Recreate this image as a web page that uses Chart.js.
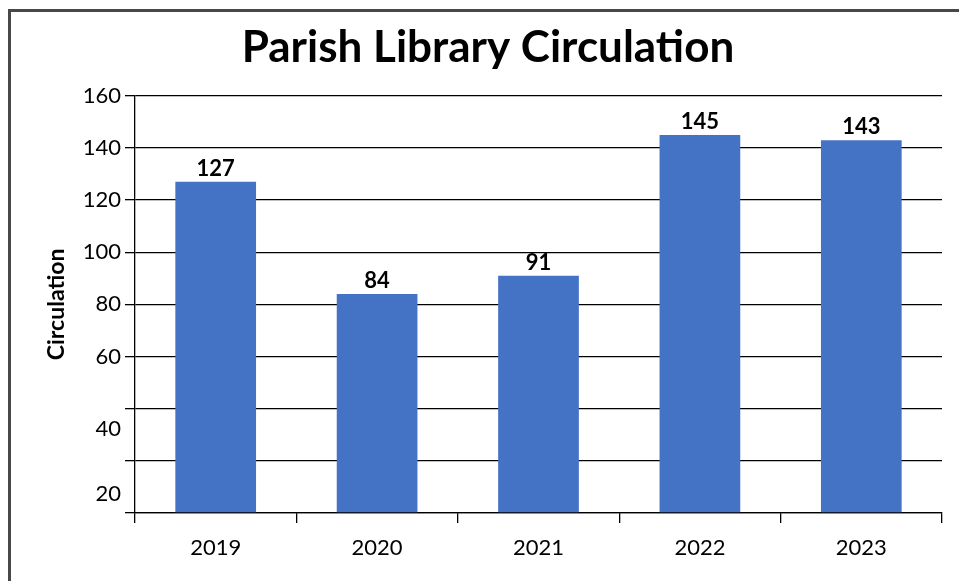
<!DOCTYPE html>
<html>
<head>
<meta charset="utf-8">
<script src="https://cdn.jsdelivr.net/npm/chart.js@4"></script>
<style>
  html, body { margin: 0; padding: 0; background: #fff; }
  #marco { position: absolute; left: 8px; top: 9px; right: 0; bottom: 0;
           border-top: 3px solid #484848; border-left: 3px solid #484848; }
  #lienzo { position: absolute; left: 0; top: 0; }
</style>
</head>
<body>
<div id="marco"></div>
<canvas id="lienzo" width="959" height="581"></canvas>
<script>
// datos del grafico
const anios = ['2019', '2020', '2021', '2022', '2023']
const circulacion = [127, 84, 91, 145, 143]
const marcasY = [0, 20, 40, 60, 80, 100, 120, 140, 160]

const fuente = 'Lato'

//PLUGIN PARA ESCRIBIR EL VALOR ENCIMA DE CADA BARRA
const etiquetas = {
    id: 'etiquetas',
    afterDatasetsDraw(chart) {
        const ctx = chart.ctx
        const meta = chart.getDatasetMeta(0)
        ctx.save()
        ctx.font = `bold 22px ${fuente}`
        ctx.fillStyle = '#000'
        ctx.textAlign = 'center'
        ctx.textBaseline = 'alphabetic'
        meta.data.forEach((barra, i) => {
            ctx.fillText(circulacion[i], barra.x, barra.y - 6)
        })
        ctx.restore()
    }
}

// en el original las etiquetas 40 y 20 quedan corridas hacia abajo
const altoLinea = v => v === 40 ? '40px' : v === 20 ? '66px' : 1.2

new Chart(document.querySelector('#lienzo'), {
    type: 'bar',
    data: {
        labels: anios,
        datasets: [{
            data: circulacion,
            backgroundColor: '#4472C4',
            categoryPercentage: 1,
            barPercentage: 0.5
        }]
    },
    options: {
        responsive: false,
        animation: false,
        layout: { padding: { left: 34, right: 17, top: 0, bottom: 0 } },
        plugins: {
            legend: { display: false },
            tooltip: { enabled: false },
            title: {
                display: true,
                text: 'Parish Library Circulation',
                color: '#000',
                font: { family: fuente, size: 44, weight: 'bold' },
                padding: { top: 21, bottom: 22 }
            }
        },
        scales: {
            x: {
                afterFit: s => { s.height = 68 },
                grid: { display: true, drawOnChartArea: false, drawTicks: true, tickLength: 10, color: '#000', lineWidth: 1.3, offset: true },
                border: { display: true, color: '#000', width: 1.3 },
                ticks: { color: '#000', padding: 12, font: { family: fuente, size: 22 } }
            },
            y: {
                min: 0,
                max: 160,
                afterFit: s => { s.width = 101 },
                afterBuildTicks: s => { s.ticks = marcasY.map(v => ({ value: v })) },
                grid: { color: '#000', lineWidth: 1.3, tickLength: 10 },
                border: { display: true, color: '#000', width: 1.3 },
                ticks: {
                    color: '#000',
                    padding: 4,
                    autoSkip: false,
                    font: c => ({ family: fuente, size: 22, lineHeight: altoLinea(c.tick ? c.tick.value : null) }),
                    callback: v => v === 0 ? '' : (v === 40 || v === 20) ? ['', String(v)] : v
                },
                title: {
                    display: true,
                    text: 'Circulation',
                    color: '#000',
                    font: { family: fuente, size: 23, weight: 'bold' },
                    padding: { top: 9, bottom: 0 }
                }
            }
        }
    },
    plugins: [etiquetas]
})
</script>
</body>
</html>
